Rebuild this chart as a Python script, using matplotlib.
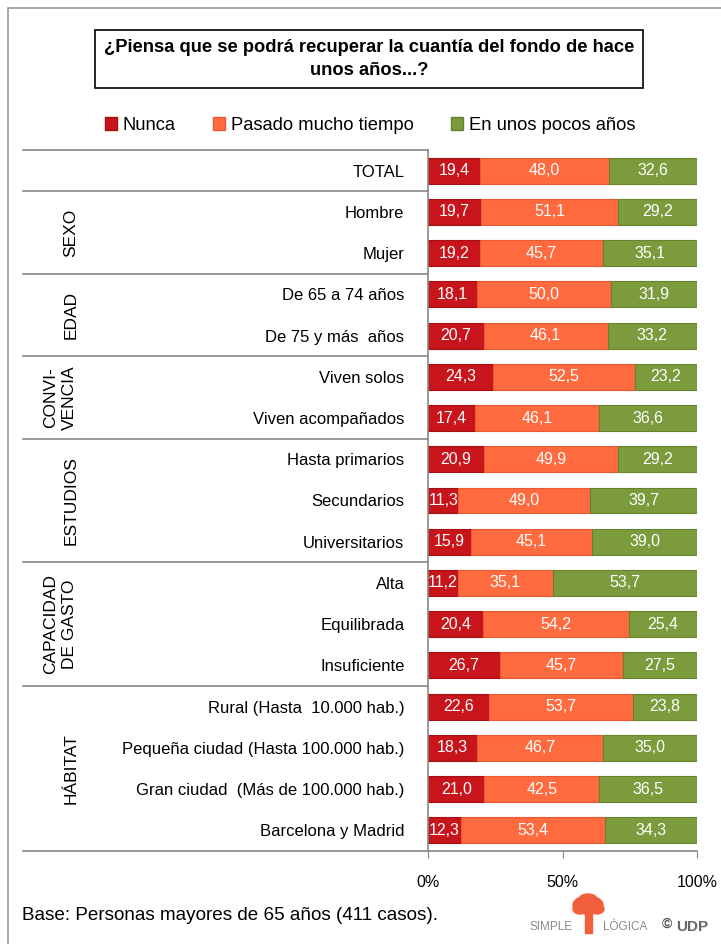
import numpy as np
import matplotlib.pyplot as plt
import matplotlib.transforms as mtransforms
from matplotlib.patches import Rectangle, Patch, Ellipse

plt.rcParams['font.family'] = ['Liberation Sans Narrow', 'Liberation Sans', 'DejaVu Sans']

# data
categories = ["TOTAL", "Hombre", "Mujer", "De 65 a 74 años", "De 75 y más  años",
              "Viven solos", "Viven acompañados", "Hasta primarios", "Secundarios",
              "Universitarios", "Alta", "Equilibrada", "Insuficiente",
              "Rural (Hasta  10.000 hab.)", "Pequeña ciudad (Hasta 100.000 hab.)",
              "Gran ciudad  (Más de 100.000 hab.)", "Barcelona y Madrid"]
nunca = [19.4, 19.7, 19.2, 18.1, 20.7, 24.3, 17.4, 20.9, 11.3, 15.9, 11.2, 20.4, 26.7, 22.6, 18.3, 21.0, 12.3]
pasado = [48.0, 51.1, 45.7, 50.0, 46.1, 52.5, 46.1, 49.9, 49.0, 45.1, 35.1, 54.2, 45.7, 53.7, 46.7, 42.5, 53.4]
pocos = [32.6, 29.2, 35.1, 31.9, 33.2, 23.2, 36.6, 29.2, 39.7, 39.0, 53.7, 25.4, 27.5, 23.8, 35.0, 36.5, 34.3]
series_names = ["Nunca", "Pasado mucho tiempo", "En unos pocos años"]
colors = ["#C8141B", "#FF6A3F", "#7B9B3C"]
edges = ["#A51015", "#E85A32", "#66822F"]

groups = ["SEXO", "EDAD", "CONVI-\nVENCIA", "ESTUDIOS", "CAPACIDAD\nDE GASTO", "HÁBITAT"]
group_rows = [(1, 2), (3, 4), (5, 6), (7, 9), (10, 12), (13, 16)]

W, H = 721, 944
fig = plt.figure(figsize=(W / 100, H / 100), dpi=100)

def fx(px):
    return px / W

def fy(py):
    return 1 - py / H

ax = fig.add_axes([fx(428), fy(851), fx(697) - fx(428), fy(150) - fy(851)])

y = np.arange(len(categories))
data = np.array([nunca, pasado, pocos])
data = data / data.sum(axis=0) * 100
left = np.zeros(len(categories))
for vals, raw, c, ec in zip(data, [nunca, pasado, pocos], colors, edges):
    ax.barh(y, vals, left=left, height=0.63, color=c, edgecolor=ec, linewidth=0.8)
    for yi, l, v, r in zip(y, left, vals, raw):
        ax.text(l + v / 2, yi, f"{r:.1f}".replace(".", ","), ha="center", va="center",
                color="white", fontsize=11.5)
    left += vals

ax.set_xlim(0, 100)
ax.set_ylim(16.5, -0.5)
ax.set_yticks(y)
ax.set_yticklabels(categories, fontsize=12)
ax.tick_params(axis="y", length=0, pad=17)
ax.set_xticks([0, 50, 100])
ax.set_xticklabels(["0%", "50%", "100%"], fontsize=11.5)
ax.tick_params(axis="x", length=5, pad=12, color="#888888", direction="out")
for s in ["top", "right"]:
    ax.spines[s].set_visible(False)
for s in ["left", "bottom"]:
    ax.spines[s].set_color("#888888")
    ax.spines[s].set_linewidth(1.2)

# separators in label area
trans = mtransforms.blended_transform_factory(fig.transFigure, ax.transData)
for sy in [-0.5, 0.5, 2.5, 4.5, 6.5, 9.5, 12.5, 16.5]:
    ax.plot([fx(23), fx(428)], [sy, sy], transform=trans, color="#888888",
            lw=1.2, clip_on=False)

# group labels
for g, (a, b) in zip(groups, group_rows):
    xpos = 60 if "\n" in g else 71
    ax.text(fx(xpos), (a + b) / 2, g, transform=trans, rotation=90, ha="center",
            va="center", fontsize=12.5, linespacing=1.25)

# outer frame
fig.patches.append(Rectangle((fx(8), fy(960)), fx(740) - fx(8), fy(8) - fy(960),
                             transform=fig.transFigure, fill=False,
                             edgecolor="#999999", lw=1.2))

# title box
fig.patches.append(Rectangle((fx(95), fy(88)), fx(643) - fx(95), fy(30) - fy(88),
                             transform=fig.transFigure, fill=False,
                             edgecolor="black", lw=1.2))
fig.text(fx(369), fy(59), "¿Piensa que se podrá recuperar la cuantía del fondo de hace\nunos años...?",
         ha="center", va="center", fontsize=13.2, fontweight="bold", linespacing=1.45)

# legend
handles = [Patch(facecolor=c, edgecolor=ec) for c, ec in zip(colors, edges)]
fig.legend(handles, series_names, loc="center", bbox_to_anchor=(fx(370), fy(125)),
           ncol=3, frameon=False, fontsize=13.2, handlelength=0.7, handleheight=0.7,
           handletextpad=0.3, columnspacing=2.0)

# footer
fig.text(fx(22), fy(915), "Base: Personas mayores de 65 años (411 casos).",
         ha="left", va="center", fontsize=13.6)

# logo
fig.text(fx(573), fy(927), "SIMPLE", ha="right", va="center", fontsize=8.5, color="#8a8a8a")
fig.text(fx(603), fy(927), "LÓGICA", ha="left", va="center", fontsize=8.5, color="#8a8a8a")
fig.patches.append(Rectangle((fx(585), fy(933)), fx(7), fy(912) - fy(933),
                             transform=fig.transFigure, color="#F0603A"))
for cx, cy, w, h in [(588, 905, 30, 18), (580, 909, 14, 10), (597, 909, 14, 10), (588, 899, 18, 10)]:
    fig.patches.append(Ellipse((fx(cx), fy(cy)), fx(w), fy(0) - fy(h),
                               transform=fig.transFigure, color="#F0603A"))
fig.text(fx(662), fy(924), "©", ha="left", va="center", fontsize=10, color="#555555",
         fontweight="bold")
fig.text(fx(676), fy(927), "UDP", ha="left", va="center", fontsize=11, color="#666666",
         fontweight="bold")

fig.savefig("out.png", dpi=100)
